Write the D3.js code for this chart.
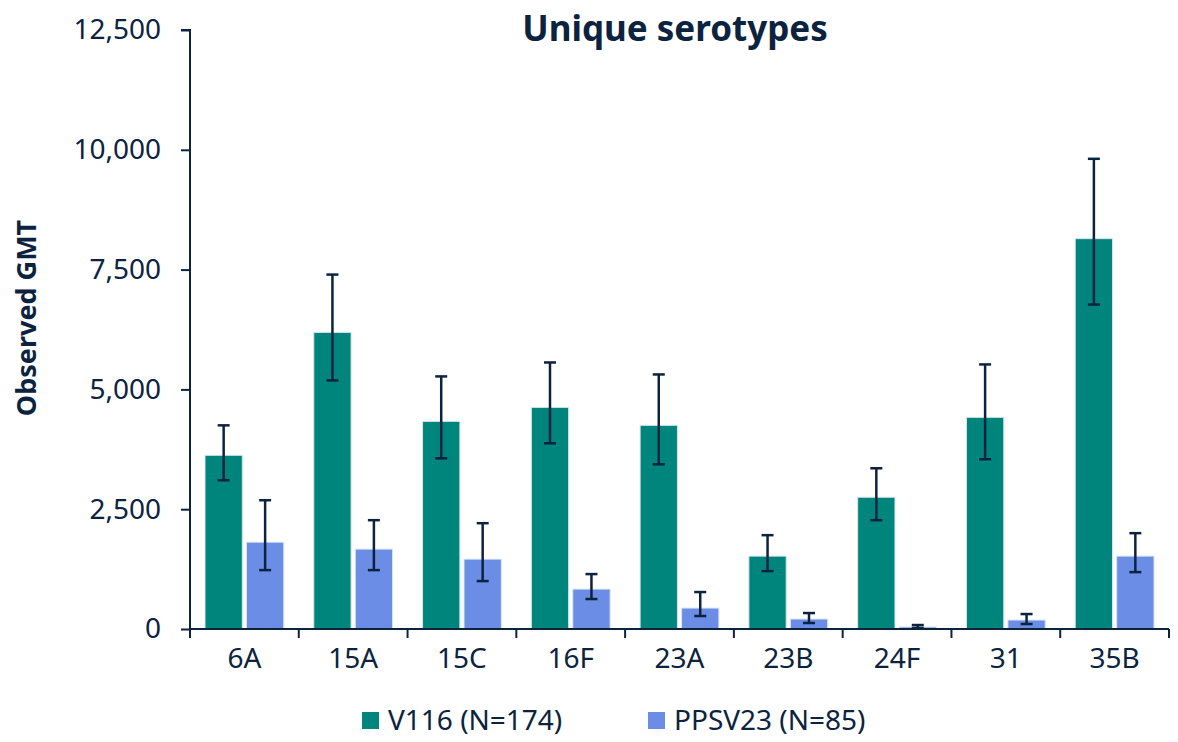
<!DOCTYPE html>
<html>
<head>
<meta charset="utf-8">
<script src="https://cdn.jsdelivr.net/npm/d3@7"></script>
<style>
  body { margin: 0; background: #fff; }
  #chart { width: 1178px; height: 742px; }
</style>
</head>
<body>
<div id="chart"></div>
<script>
// Unique serotypes - observed GMT, V116 vs PPSV23
const serotypes = ["6A", "15A", "15C", "16F", "23A", "23B", "24F", "31", "35B"];
const seriesNames = ["V116 (N=174)", "PPSV23 (N=85)"];

const v116Gmt   = [3625, 6190, 4333, 4625, 4250, 1521, 2750, 4417, 8146];
const v116Low   = [3104, 5187, 3562, 3875, 3437, 1208, 2271, 3542, 6771];
const v116High  = [4250, 7396, 5271, 5562, 5312, 1958, 3354, 5521, 9812];

const ppsvGmt   = [1812, 1667, 1458, 833, 437, 208, 42, 187, 1521];
const ppsvLow   = [1229, 1229, 1000, 625, 271, 125, 21, 104, 1187];
const ppsvHigh  = [2687, 2271, 2208, 1146, 771, 333, 83, 312, 2000];

const yTicks = [0, 2500, 5000, 7500, 10000, 12500];

(function() {
    const W = 1178, H = 742;
    const margin = {top: 30, right: 9, bottom: 113, left: 190};
    const width = W - margin.left - margin.right;
    const height = H - margin.top - margin.bottom;

    const ink = "#0c2340";
    const colors = ["#00857c", "#6b8de6"];
    const font = "'Noto Sans', sans-serif";

    const svg = d3.select("#chart")
        .append("svg")
        .attr("width", W)
        .attr("height", H)
        .style("font-family", font);

    const g = svg.append("g")
        .attr("transform", `translate(${margin.left},${margin.top})`);

    const series = [
        {name: seriesNames[0], gmt: v116Gmt, low: v116Low, high: v116High},
        {name: seriesNames[1], gmt: ppsvGmt, low: ppsvLow, high: ppsvHigh}
    ];

    const x0 = d3.scaleBand()
        .domain(serotypes)
        .range([0, width])
        .paddingInner(0)
        .paddingOuter(0);

    const x1 = d3.scaleBand()
        .domain(d3.range(series.length))
        .range([15, x0.bandwidth() - 15])
        .paddingInner(0.1);

    const y = d3.scaleLinear()
        .domain([0, 12500])
        .range([height, 0]);

    // y axis
    const yAxis = g.append("g")
        .call(d3.axisLeft(y)
            .tickValues(yTicks)
            .tickSize(9)
            .tickPadding(20)
            .tickFormat(d3.format(",")));
    yAxis.select(".domain").attr("stroke", ink).attr("stroke-width", 2)
        .attr("d", `M-9,0H0V${height}`);
    yAxis.selectAll(".tick line").attr("stroke", ink).attr("stroke-width", 2);
    yAxis.selectAll(".tick text")
        .attr("fill", ink)
        .style("font-size", "28px")
        .style("font-family", font);

    // bars
    const groups = g.selectAll(".grp")
        .data(serotypes)
        .enter()
        .append("g")
        .attr("class", "grp")
        .attr("transform", d => `translate(${x0(d)},0)`);

    series.forEach((s, si) => {
        groups.append("rect")
            .attr("x", x1(si))
            .attr("width", x1.bandwidth())
            .attr("y", (d, i) => y(s.gmt[i]))
            .attr("height", (d, i) => height - y(s.gmt[i]))
            .attr("fill", colors[si])
            .attr("stroke", "#d8e6ee")
            .attr("stroke-width", 1);
    });

    // error bars
    series.forEach((s, si) => {
        const cx = x1(si) + x1.bandwidth() / 2;
        const eb = groups.append("g")
            .attr("stroke", ink)
            .attr("stroke-width", 2.5)
            .attr("fill", "none");
        eb.append("line")
            .attr("x1", cx).attr("x2", cx)
            .attr("y1", (d, i) => y(s.high[i]))
            .attr("y2", (d, i) => y(s.low[i]));
        eb.append("line")
            .attr("x1", cx - 6).attr("x2", cx + 6)
            .attr("y1", (d, i) => y(s.high[i]))
            .attr("y2", (d, i) => y(s.high[i]));
        eb.append("line")
            .attr("x1", cx - 6).attr("x2", cx + 6)
            .attr("y1", (d, i) => y(s.low[i]))
            .attr("y2", (d, i) => y(s.low[i]));
    });

    // x axis
    const xAxis = g.append("g")
        .attr("transform", `translate(0,${height})`)
        .call(d3.axisBottom(x0).tickSize(0).tickPadding(19));
    xAxis.select(".domain").attr("stroke", ink).attr("stroke-width", 2)
        .attr("d", `M0,0H${width}`);
    xAxis.selectAll(".tick text")
        .attr("fill", ink)
        .style("font-size", "28px")
        .style("font-family", font);

    // category separator ticks
    const bounds = serotypes.map(d => x0(d)).concat([width]);
    xAxis.selectAll(".sep")
        .data(bounds)
        .enter()
        .append("line")
        .attr("class", "sep")
        .attr("x1", d => d).attr("x2", d => d)
        .attr("y1", 0).attr("y2", 9)
        .attr("stroke", ink)
        .attr("stroke-width", 2);

    // title
    svg.append("text")
        .attr("x", 675)
        .attr("y", 41)
        .attr("text-anchor", "middle")
        .attr("fill", ink)
        .style("font-size", "35px")
        .style("font-weight", "bold")
        .text("Unique serotypes");

    // y axis title
    svg.append("text")
        .attr("transform", `translate(36,318) rotate(-90)`)
        .attr("text-anchor", "middle")
        .attr("fill", ink)
        .style("font-size", "27px")
        .style("font-weight", "bold")
        .text("Observed GMT");

    // legend
    const legendX = [362, 648];
    series.forEach((s, i) => {
        const row = svg.append("g")
            .attr("transform", `translate(${legendX[i]},712)`);
        row.append("rect")
            .attr("width", 17)
            .attr("height", 17)
            .attr("fill", colors[i]);
        row.append("text")
            .attr("x", 26)
            .attr("y", 18)
            .attr("fill", ink)
            .style("font-size", "28px")
            .text(s.name);
    });
})();
</script>
</body>
</html>
